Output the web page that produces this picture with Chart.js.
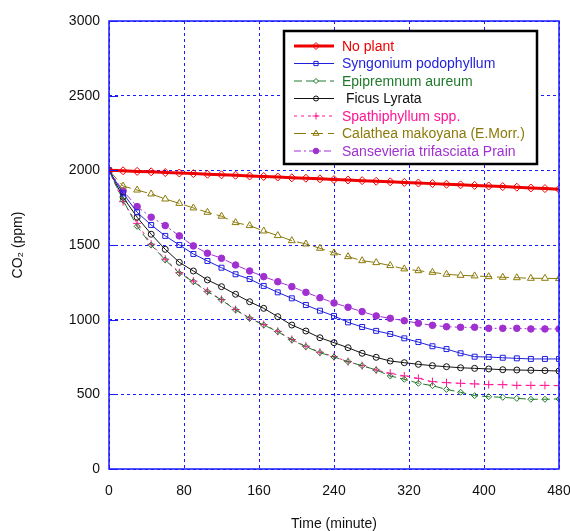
<!DOCTYPE html>
<html>
<head>
<meta charset="utf-8">
<script src="https://cdn.jsdelivr.net/npm/chart.js@4.4.1/dist/chart.umd.min.js"></script>
<style>
  html, body { margin: 0; padding: 0; background: #fff; }
  #wrap { width: 570px; height: 531px; }
</style>
</head>
<body>
<div id="wrap"><canvas id="co2"></canvas></div>
<script>
const times = [0, 15, 30, 45, 60, 75, 90, 105, 120, 135, 150, 165, 180, 195, 210, 225, 240,
               255, 270, 285, 300, 315, 330, 345, 360, 375, 390, 405, 420, 435, 450, 465, 480];

const noPlant = [2000, 1997, 1993, 1990, 1985, 1982, 1978, 1974, 1970, 1967, 1962, 1959, 1955, 1950, 1947, 1943, 1938,
                 1935, 1931, 1927, 1923, 1919, 1915, 1911, 1907, 1903, 1899, 1895, 1891, 1887, 1882, 1878, 1873];
const syngonium = [2000, 1846, 1719, 1634, 1561, 1500, 1440, 1393, 1348, 1304, 1272, 1226, 1183, 1143, 1098, 1060, 1025,
                   982, 951, 925, 904, 875, 850, 822, 803, 775, 752, 750, 745, 741, 737, 737, 737];
const epipremnum = [2000, 1800, 1625, 1500, 1400, 1311, 1254, 1187, 1132, 1065, 1009, 964, 920, 864, 819, 779, 750,
                    719, 692, 663, 623, 601, 574, 558, 533, 514, 491, 484, 480, 473, 467, 467, 469];
const ficus = [2000, 1820, 1686, 1572, 1471, 1384, 1326, 1266, 1221, 1170, 1120, 1076, 1020, 964, 924, 879, 846,
               812, 775, 748, 723, 712, 701, 692, 685, 678, 674, 670, 665, 663, 661, 659, 656];
const spathiphyllum = [2000, 1790, 1645, 1505, 1405, 1315, 1258, 1190, 1135, 1068, 1012, 967, 922, 867, 822, 782, 752,
                       719, 692, 663, 641, 623, 607, 585, 578, 574, 570, 565, 565, 560, 560, 560, 558];
const calathea = [2000, 1895, 1868, 1842, 1808, 1779, 1748, 1719, 1693, 1650, 1630, 1594, 1563, 1529, 1507, 1478, 1447,
                  1422, 1395, 1382, 1362, 1340, 1328, 1317, 1304, 1297, 1293, 1288, 1284, 1281, 1277, 1277, 1275];
const sansevieria = [2000, 1862, 1757, 1686, 1630, 1561, 1494, 1445, 1411, 1366, 1326, 1288, 1254, 1221, 1183, 1147, 1112,
                     1083, 1054, 1025, 1009, 993, 976, 962, 953, 949, 949, 942, 942, 942, 938, 938, 938];

const FONT = '"Liberation Sans", Arial, sans-serif';
const GRID_BLUE = '#1a1aff';

function series(label, values, color, opts) {
    return Object.assign({
        label,
        data: times.map((t, i) => ({ x: t, y: values[i] })),
        borderColor: color,
        pointBorderColor: color,
        pointBackgroundColor: 'rgba(0,0,0,0)',
        borderWidth: 1,
        pointBorderWidth: 1,
        pointRadius: 3.5,
        borderDash: [],
        tension: 0
    }, opts);
}

const datasets = [
    series('No plant', noPlant, '#ee0000', { borderWidth: 3, pointStyle: 'rectRot', pointRadius: 4 }),
    series('Syngonium podophyllum', syngonium, '#1f1fdd', { pointStyle: 'rect', pointRadius: 3.5 }),
    series('Epipremnum aureum', epipremnum, '#1e7a2a', { pointStyle: 'rectRot', pointRadius: 3, borderDash: [8, 4] }),
    series(' Ficus Lyrata', ficus, '#111111', { pointStyle: 'circle', pointRadius: 3 }),
    series('Spathiphyllum spp.', spathiphyllum, '#ff1493', { pointStyle: 'cross', pointRadius: 4, borderDash: [3, 4] }),
    series('Calathea makoyana (E.Morr.)', calathea, '#8c7a0a', { pointStyle: 'triangle', pointRadius: 4, borderDash: [12, 5] }),
    series('Sansevieria trifasciata Prain', sansevieria, '#a030d0', {
        pointStyle: 'circle', pointRadius: 3.3, pointBackgroundColor: '#a030d0', borderDash: [7, 3, 2, 3]
    })
];

// frame, inner ticks and the boxed legend
const framePlugin = {
    id: 'frame',
    afterDraw(chart) {
        const { ctx, chartArea: a, scales } = chart;
        ctx.save();
        ctx.strokeStyle = GRID_BLUE;
        ctx.lineWidth = 1.5;
        ctx.setLineDash([]);
        ctx.strokeRect(a.left, a.top, a.right - a.left, a.bottom - a.top);
        ctx.lineWidth = 1;
        scales.y.ticks.forEach(t => {
            const py = Math.round(scales.y.getPixelForValue(t.value)) + 0.5;
            ctx.beginPath();
            ctx.moveTo(a.left, py);
            ctx.lineTo(a.left + 9, py);
            ctx.stroke();
        });

        // legend box
        const bx = 284, by = 31, bw = 253, bh = 133;
        ctx.fillStyle = '#fff';
        ctx.fillRect(bx, by, bw, bh);
        ctx.strokeStyle = '#000';
        ctx.lineWidth = 2.5;
        ctx.strokeRect(bx, by, bw, bh);

        ctx.font = '14px ' + FONT;
        ctx.textBaseline = 'middle';
        chart.data.datasets.forEach((ds, i) => {
            const y = 46 + i * 17.5;
            ctx.strokeStyle = ds.borderColor;
            ctx.lineWidth = ds.borderWidth;
            ctx.setLineDash(ds.borderDash);
            ctx.beginPath();
            ctx.moveTo(294, y);
            ctx.lineTo(334, y);
            ctx.stroke();
            ctx.setLineDash([]);
            ctx.lineWidth = 1;
            ctx.strokeStyle = ds.pointBorderColor;
            ctx.fillStyle = ds.pointBackgroundColor;
            Chart.helpers.drawPoint(ctx, {
                pointStyle: ds.pointStyle, radius: ds.pointRadius - 0.5, rotation: 0, borderWidth: 1
            }, 316, y);
            ctx.fillStyle = ds.borderColor;
            ctx.fillText(ds.label, 342, y + 1);
        });
        ctx.restore();
    }
};

new Chart(document.getElementById('co2'), {
    type: 'line',
    data: { datasets },
    options: {
        responsive: true,
        maintainAspectRatio: false,
        animation: false,
        layout: { autoPadding: false, padding: { left: 0, right: 11, top: 21, bottom: 0 } },
        plugins: {
            legend: { display: false },
            tooltip: { enabled: false }
        },
        scales: {
            x: {
                type: 'linear',
                min: 0,
                max: 480,
                afterFit: s => {
                    s.height = 62;
                    s.paddingLeft = 0;
                    s.paddingRight = 0;
                },
                ticks: {
                    stepSize: 80, padding: 14, color: '#111', font: { family: FONT, size: 14 },
                    callback: v => String(v)
                },
                grid: { color: GRID_BLUE, lineWidth: 1, drawTicks: false },
                border: { display: false, dash: [3, 3] },
                title: {
                    display: true,
                    text: 'Time (minute)',
                    color: '#111',
                    font: { family: FONT, size: 14, lineHeight: 1 },
                    padding: { top: 0, bottom: 0 }
                }
            },
            y: {
                min: 0,
                max: 3000,
                afterFit: s => {
                    s.width = 109;
                    s.paddingTop = 0;
                    s.paddingBottom = 0;
                },
                ticks: {
                    stepSize: 500, padding: 9, color: '#111', font: { family: FONT, size: 14 },
                    callback: v => String(v)
                },
                grid: { color: GRID_BLUE, lineWidth: 1, drawTicks: false },
                border: { display: false, dash: [3, 3] },
                title: {
                    display: true,
                    text: 'CO₂ (ppm)',
                    color: '#111',
                    font: { family: FONT, size: 14 },
                    padding: { top: 10, bottom: 0 }
                }
            }
        }
    },
    plugins: [framePlugin]
});
</script>
</body>
</html>
